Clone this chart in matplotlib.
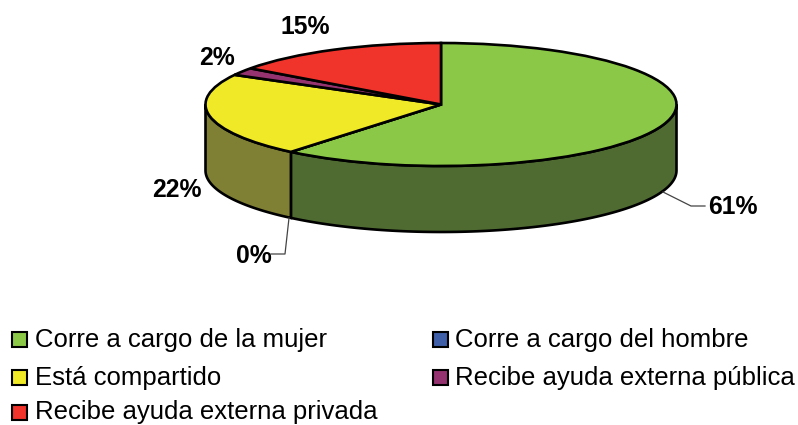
#!/usr/bin/env python3
"""3D-look pie of who carries the care work -> out.png"""
import matplotlib

matplotlib.use("Agg")
import matplotlib.pyplot as plt  # noqa: E402
import numpy as np  # noqa: E402
from matplotlib.patches import Rectangle  # noqa: E402

categories = ["Corre a cargo de la mujer", "Corre a cargo del hombre", "Está compartido",
              "Recibe ayuda externa pública", "Recibe ayuda externa privada"]
values = [61, 0, 22, 2, 15]
pct_labels = ["61%", "0%", "22%", "2%", "15%"]
colors = ["#8CC847", "#3F5FA8", "#EFE928", "#94336F", "#F0332B"]
wall_colors = ["#4F6B32", "#2D4377", "#808035", "#69254F", "#AA2420"]

W, H = 798, 425
CX, CY, RX, RY, DEPTH = 441, 104.5, 235.5, 61.5, 66

plt.rcParams["font.family"] = ["Liberation Sans", "DejaVu Sans"]
fig = plt.figure(figsize=(W / 100, H / 100), dpi=100)

# stretched axes: one data unit is RX px across and RY px up, so the pie comes out elliptical
ax = fig.add_axes([0, 0, 1, 1])
ax.pie(values, colors=colors, startangle=90, counterclock=False, radius=1,
       wedgeprops={"edgecolor": "black", "linewidth": 1.9}, normalize=True)
ax.set_aspect("auto")
ax.set_xlim(-CX / RX, (W - CX) / RX)
ax.set_ylim((CY - H) / RY, CY / RY)
ax.axis("off")
for w in ax.patches:
    w.set_zorder(3)

# side wall, only the part that faces the viewer (lower half of the ellipse)
edges = 90 - np.cumsum([0] + values) * 3.6
d = DEPTH / RY
for i in range(len(values)):
    a0, a1 = max(edges[i + 1], -180), min(edges[i], 0)
    if a0 >= a1 and edges[i + 1] > -360:
        # wedges past -180 are on the back of the pie, no wall
        continue
    t = np.radians(np.linspace(a1, a0, 100))
    x, y = np.cos(t), np.sin(t)
    ax.fill(np.r_[x, x[::-1]], np.r_[y, y[::-1] - d], facecolor=wall_colors[i],
            edgecolor="black", linewidth=1.9, zorder=2)

# overlay in image pixels for labels and legend
top = fig.add_axes([0, 0, 1, 1])
top.set_xlim(0, W)
top.set_ylim(H, 0)
top.axis("off")
top.patch.set_alpha(0)

label_xy = [(733, 207), (254, 256), (177, 190), (217, 58), (305, 27)]
for s, (x, y) in zip(pct_labels, label_xy):
    top.text(x, y, s, fontsize=17.8, fontweight="bold", ha="center", va="center")

top.plot([663, 691, 705], [192, 206, 206], color="#444444", lw=0.9)
top.plot([289, 285, 271], [218, 254, 254], color="#444444", lw=0.9)

# swatch centre y and text baseline y per entry
legend_xy = [(11, 339.5, 347), (432, 339.5, 347), (11, 377, 385), (432, 377, 385), (11, 412.5, 419)]
for name, c, (x, y, base) in zip(categories, colors, legend_xy):
    top.add_patch(Rectangle((x + 0.5, y - 7.5), 15, 15, facecolor=c, edgecolor="black", lw=1.5))
    top.text(x + 24 - (x > 100), base, name, fontsize=18.5, ha="left", va="baseline")

fig.savefig("out.png", dpi=100)
